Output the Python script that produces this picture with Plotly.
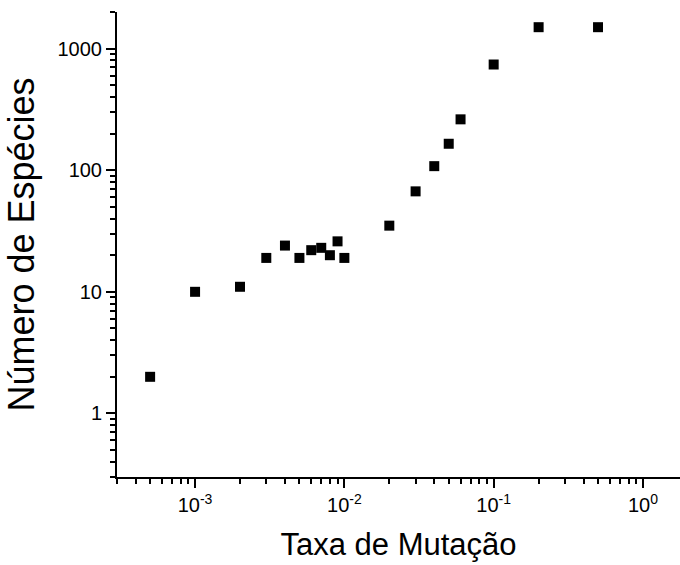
import math
import plotly.graph_objects as go

# Mutation rate vs. number of species (log-log)
taxa_mutacao = [0.0005, 0.001, 0.002, 0.003, 0.004, 0.005, 0.006, 0.007, 0.008,
                0.009, 0.01, 0.02, 0.03, 0.04, 0.05, 0.06, 0.1, 0.2, 0.5]
numero_especies = [2, 10, 11, 19, 24, 19, 22, 23, 20,
                   26, 19, 35, 67, 108, 165, 262, 740, 1500, 1500]

x_tick_vals = [1e-3, 1e-2, 1e-1, 1e0]
x_tick_text = ["10<sup>-3</sup>", "10<sup>-2</sup>", "10<sup>-1</sup>", "10<sup>0</sup>"]
y_tick_vals = [1, 10, 100, 1000]
y_tick_text = ["1", "10", "100", "1000"]

FONT = "Liberation Sans, Arial, sans-serif"

fig = go.Figure(
    go.Scatter(
        x=taxa_mutacao,
        y=numero_especies,
        mode="markers",
        marker=dict(symbol="square", size=10, color="black", line=dict(width=0)),
        showlegend=False,
    )
)

axis_common = dict(
    type="log",
    showgrid=False,
    zeroline=False,
    showline=True,
    linecolor="black",
    linewidth=2,
    ticks="outside",
    ticklen=9,
    tickwidth=2,
    tickcolor="black",
    tickfont=dict(family=FONT, size=20, color="black"),
    minor=dict(ticks="outside", ticklen=5, tickwidth=1.5, tickcolor="black",
               dtick="D1", showgrid=False),
)

fig.update_xaxes(
    **axis_common,
    range=[math.log10(0.0003), 0.248],
    tickmode="array",
    tickvals=x_tick_vals,
    ticktext=x_tick_text,
    title=dict(text="Taxa de Mutação", font=dict(family=FONT, size=31, color="black"),
               standoff=18),
)
fig.update_yaxes(
    **axis_common,
    range=[math.log10(0.3), math.log10(2000)],
    tickmode="array",
    tickvals=y_tick_vals,
    ticktext=y_tick_text,
    title=dict(text="Número de Espécies", font=dict(family=FONT, size=36, color="black"),
               standoff=12),
)

fig.update_layout(
    width=680,
    height=565,
    margin=dict(l=117, r=0, t=12, b=88),
    paper_bgcolor="white",
    plot_bgcolor="white",
)

fig.write_html("out.html")
